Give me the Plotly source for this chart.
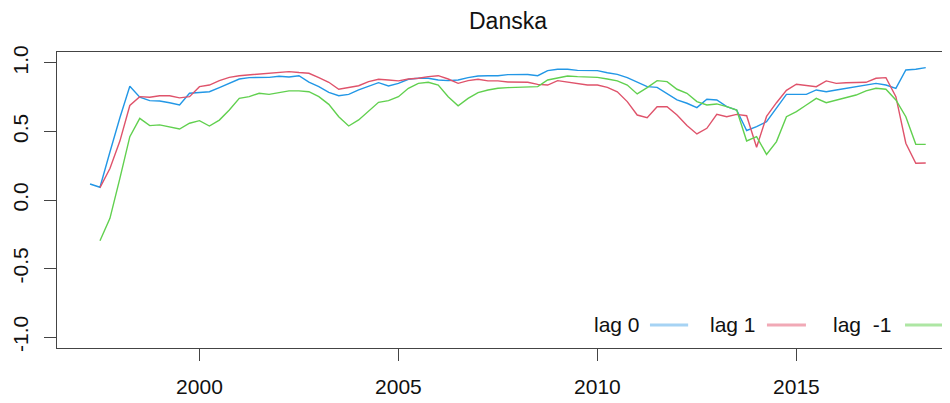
import numpy as np
import pandas as pd
import plotly.graph_objects as go

# quarterly time axis, 1997 Q2 .. 2018 Q2
quarters = pd.period_range("1997Q2", "2018Q2", freq="Q")
time = np.array([q.year + (q.quarter - 1) / 4 for q in quarters])

# lag 0 (starts 1997 Q2)
lag0 = [0.117, 0.093, 0.35, 0.60, 0.83, 0.75, 0.725, 0.722, 0.71, 0.693, 0.779, 0.784, 0.79, 0.82,
        0.85, 0.883, 0.893, 0.893, 0.895, 0.903, 0.898, 0.907,
        0.86, 0.827, 0.786, 0.761, 0.771, 0.803, 0.827, 0.856, 0.832, 0.851, 0.881, 0.888, 0.888,
        0.876, 0.871, 0.876, 0.893, 0.905, 0.907, 0.907, 0.915, 0.915,
        0.916, 0.907, 0.944, 0.954, 0.954, 0.946, 0.944, 0.944, 0.929, 0.917, 0.893, 0.859, 0.827,
        0.822, 0.779, 0.73, 0.706, 0.674, 0.735, 0.73, 0.681, 0.657,
        0.507, 0.535, 0.572, 0.669, 0.771, 0.771, 0.771, 0.803, 0.79, 0.803, 0.815, 0.822, 0.839,
        0.851, 0.839, 0.815, 0.949, 0.954, 0.966]

# lag 1 and lag -1 (start 1997 Q3)
lag1 = [0.09, 0.23, 0.43, 0.69, 0.754, 0.75, 0.761, 0.761, 0.745, 0.754, 0.827, 0.839, 0.871,
        0.895, 0.907, 0.912, 0.92, 0.927, 0.93, 0.937, 0.93,
        0.925, 0.893, 0.859, 0.808, 0.822, 0.834, 0.864, 0.881, 0.876, 0.869, 0.883, 0.888, 0.9,
        0.907, 0.883, 0.851, 0.871, 0.881, 0.869, 0.869, 0.861, 0.859,
        0.859, 0.844, 0.839, 0.871, 0.859, 0.851, 0.839, 0.839, 0.822, 0.79, 0.718, 0.62, 0.601,
        0.681, 0.681, 0.62, 0.543, 0.482, 0.523, 0.625, 0.608, 0.625,
        0.615, 0.385, 0.61, 0.71, 0.80, 0.845, 0.834, 0.827, 0.869, 0.851, 0.856, 0.859, 0.859,
        0.888, 0.893, 0.754, 0.414, 0.268, 0.27]

lag_m1 = [-0.297, -0.134, 0.158, 0.462, 0.596, 0.543, 0.548, 0.535, 0.518, 0.56, 0.579, 0.54,
          0.583, 0.657, 0.742, 0.754, 0.779, 0.771, 0.784, 0.796, 0.796,
          0.79, 0.754, 0.698, 0.608, 0.54, 0.584, 0.645, 0.713, 0.725, 0.754, 0.815, 0.851, 0.859,
          0.839, 0.754, 0.688, 0.742, 0.784, 0.803, 0.815, 0.82, 0.822,
          0.827, 0.827, 0.876, 0.893, 0.905, 0.9, 0.895, 0.895, 0.883, 0.869, 0.839, 0.774, 0.82,
          0.871, 0.864, 0.808, 0.779, 0.718, 0.693, 0.701, 0.681, 0.657,
          0.431, 0.462, 0.333, 0.426, 0.608, 0.645, 0.693, 0.742, 0.71, 0.73, 0.747, 0.766, 0.796,
          0.815, 0.808, 0.73, 0.608, 0.406, 0.406]

x_ticks = [2000, 2005, 2010, 2015]
y_ticks = [-1.0, -0.5, 0.0, 0.5, 1.0]
y_tick_text = ["-1.0", "-0.5", "0.0", "0.5", "1.0"]

legend_labels = ["lag 0", "lag 1", "lag\u00a0 -1"]
line_colors = ["#2297E6", "#DF536B", "#61D04F"]
legend_colors = ["#a6d3f4", "#f1a9b6", "#ade6a3"]

FONT = "Liberation Sans, Arial, sans-serif"

fig = go.Figure()
series = [(time, lag0), (time[1:], lag1), (time[1:], lag_m1)]
for (t, v), col, name in zip(series, line_colors, legend_labels):
    fig.add_trace(go.Scatter(x=t, y=v, mode="lines", name=name,
                             line=dict(color=col, width=1.4), showlegend=False))

# legend: text followed by a line sample (R style, bottom right)
leg_text_x = [2011.12, 2014.03, 2017.43]
leg_line_x = [(2011.32, 2012.28), (2014.26, 2015.24), (2017.73, 2018.68)]
leg_y = -0.912
for lab, tx, (x0, x1), col in zip(legend_labels, leg_text_x, leg_line_x, legend_colors):
    fig.add_annotation(x=tx, y=leg_y, xref="x", yref="y", text=lab, showarrow=False,
                       xanchor="right", yanchor="middle",
                       font=dict(family=FONT, size=21, color="#111"))
    fig.add_shape(type="line", x0=x0, x1=x1, y0=leg_y, y1=leg_y, xref="x", yref="y",
                  line=dict(color=col, width=3))

# page body has an 8px margin, so the figure is 8px smaller than the window
fig.update_layout(
    width=942, height=395,
    margin=dict(l=49, r=0, t=44, b=55),
    paper_bgcolor="white", plot_bgcolor="white",
    title=dict(text="Danska", x=500 / 942, xanchor="center", y=1 - 13 / 395, yanchor="middle",
               font=dict(family=FONT, size=23, color="#111")),
    font=dict(family=FONT, size=21, color="#111"),
)
fig.update_xaxes(range=[1996.42, 2018.86], tickvals=x_ticks, ticks="outside", ticklen=12,
                 tickcolor="#444", showline=True, mirror=True, linecolor="#444", linewidth=1,
                 showgrid=False, zeroline=False, tickfont=dict(size=21), automargin=False,
                 ticklabelstandoff=8)
fig.update_yaxes(range=[-1.08, 1.08], tickvals=y_ticks, ticktext=y_tick_text, tickangle=-90,
                 ticks="outside", ticklen=12, tickcolor="#444", showline=True, mirror=False,
                 linecolor="#444", linewidth=1, showgrid=False, zeroline=False,
                 tickfont=dict(size=21), automargin=False, ticklabelstandoff=8)

fig.write_html("out.html")
